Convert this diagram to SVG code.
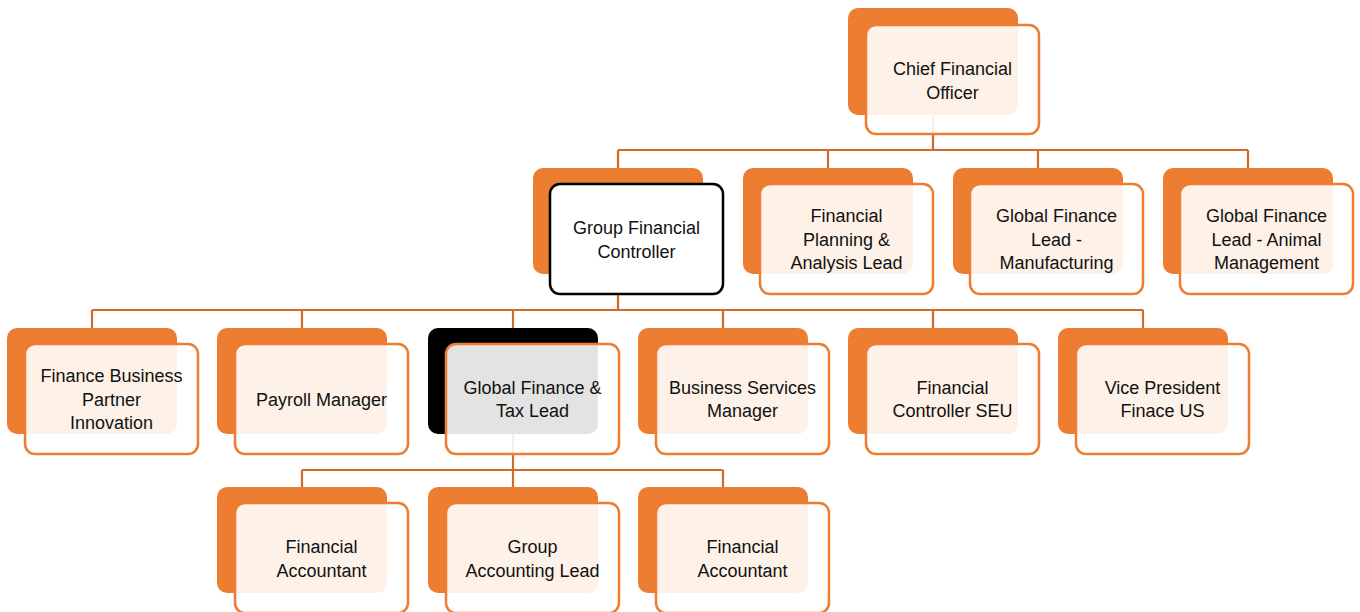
<svg xmlns="http://www.w3.org/2000/svg" width="1360" height="612" viewBox="0 0 1360 612">
<style>
.bk{fill:#ED7D31}
.bkd{fill:#000000}
.fr{fill:#ffffff;fill-opacity:0.89;stroke:#ED7D31;stroke-width:2.5}
.frs{fill:#ffffff;stroke:#000000;stroke-width:2.5}
.cn{fill:none;stroke:#D06B2A;stroke-width:2.2}
text{font-family:"Liberation Sans",Arial,sans-serif;font-size:18px;fill:#111111;text-anchor:middle}
</style>
<rect width="1360" height="612" fill="#ffffff"/>
<g id="connectors">
<path class="cn" d="M933 115V150M618 150H1248M618 150V168M828 150V168M1038 150V168M1248 150V168"/>
<path class="cn" d="M618 274V310M92 310H1143M92 310V328M302 310V328M513 310V328M723 310V328M933 310V328M1143 310V328"/>
<path class="cn" d="M513 434V470M302 470H723M302 470V487M513 470V487M723 470V487"/>
</g>
<g id="cfo">
<rect class="bk" x="848" y="8" width="170" height="107" rx="10"/>
<rect class="fr" x="866" y="25" width="173" height="109" rx="10"/>
<text x="952.5" y="75">Chief Financial</text><text x="952.5" y="98.5">Officer</text>
</g>
<g id="gfc">
<rect class="bk" x="533" y="168" width="170" height="106" rx="10"/>
<rect class="frs" x="550" y="184" width="173" height="110" rx="10"/>
<text x="636.5" y="234">Group Financial</text><text x="636.5" y="257.5">Controller</text>
</g>
<g id="fpa">
<rect class="bk" x="743" y="168" width="170" height="106" rx="10"/>
<rect class="fr" x="760" y="184" width="173" height="110" rx="10"/>
<text x="846.5" y="222">Financial</text><text x="846.5" y="245.5">Planning &amp;</text><text x="846.5" y="269">Analysis Lead</text>
</g>
<g id="gflm">
<rect class="bk" x="953" y="168" width="170" height="106" rx="10"/>
<rect class="fr" x="970" y="184" width="173" height="110" rx="10"/>
<text x="1056.5" y="222">Global Finance</text><text x="1056.5" y="245.5">Lead -</text><text x="1056.5" y="269">Manufacturing</text>
</g>
<g id="gflam">
<rect class="bk" x="1163" y="168" width="170" height="106" rx="10"/>
<rect class="fr" x="1180" y="184" width="173" height="110" rx="10"/>
<text x="1266.5" y="222">Global Finance</text><text x="1266.5" y="245.5">Lead - Animal</text><text x="1266.5" y="269">Management</text>
</g>
<g id="fbpi">
<rect class="bk" x="7" y="328" width="170" height="106" rx="10"/>
<rect class="fr" x="25" y="344" width="173" height="110" rx="10"/>
<text x="111.5" y="382">Finance Business</text><text x="111.5" y="405.5">Partner</text><text x="111.5" y="429">Innovation</text>
</g>
<g id="payroll">
<rect class="bk" x="217" y="328" width="170" height="106" rx="10"/>
<rect class="fr" x="235" y="344" width="173" height="110" rx="10"/>
<text x="321.5" y="405.5">Payroll Manager</text>
</g>
<g id="gftl">
<rect class="bkd" x="428" y="328" width="170" height="106" rx="10"/>
<rect class="fr" x="446" y="344" width="173" height="110" rx="10"/>
<text x="532.5" y="393.5">Global Finance &amp;</text><text x="532.5" y="417">Tax Lead</text>
</g>
<g id="bsm">
<rect class="bk" x="638" y="328" width="170" height="106" rx="10"/>
<rect class="fr" x="656" y="344" width="173" height="110" rx="10"/>
<text x="742.5" y="393.5">Business Services</text><text x="742.5" y="417">Manager</text>
</g>
<g id="fcseu">
<rect class="bk" x="848" y="328" width="170" height="106" rx="10"/>
<rect class="fr" x="866" y="344" width="173" height="110" rx="10"/>
<text x="952.5" y="393.5">Financial</text><text x="952.5" y="417">Controller SEU</text>
</g>
<g id="vpus">
<rect class="bk" x="1058" y="328" width="170" height="106" rx="10"/>
<rect class="fr" x="1076" y="344" width="173" height="110" rx="10"/>
<text x="1162.5" y="393.5">Vice President</text><text x="1162.5" y="417">Finace US</text>
</g>
<g id="fa1">
<rect class="bk" x="217" y="487" width="170" height="106" rx="10"/>
<rect class="fr" x="235" y="503" width="173" height="110" rx="10"/>
<text x="321.5" y="553">Financial</text><text x="321.5" y="576.5">Accountant</text>
</g>
<g id="gal">
<rect class="bk" x="428" y="487" width="170" height="106" rx="10"/>
<rect class="fr" x="446" y="503" width="173" height="110" rx="10"/>
<text x="532.5" y="553">Group</text><text x="532.5" y="576.5">Accounting Lead</text>
</g>
<g id="fa2">
<rect class="bk" x="638" y="487" width="170" height="106" rx="10"/>
<rect class="fr" x="656" y="503" width="173" height="110" rx="10"/>
<text x="742.5" y="553">Financial</text><text x="742.5" y="576.5">Accountant</text>
</g>
</svg>
